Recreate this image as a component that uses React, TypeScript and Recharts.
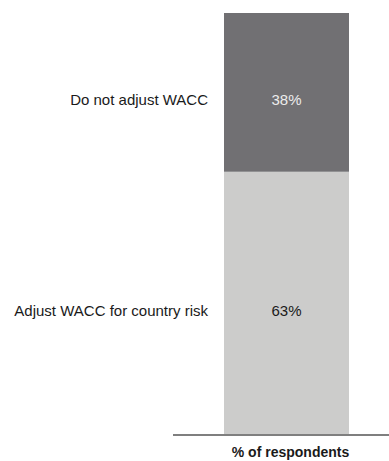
import React from "react";
import { BarChart, Bar, XAxis, YAxis, LabelList } from "recharts";

const categories = ["% of respondents"];
const adjustValues = [63];
const notAdjustValues = [38];
const seriesNames = ["Adjust WACC for country risk", "Do not adjust WACC"];
const seriesColors = ["#cccccb", "#717073"];
const valueColors = ["#1a1a1a", "#ececec"];

const data = categories.map((c, i) => ({
  category: c,
  adjust: adjustValues[i],
  notAdjust: notAdjustValues[i],
}));

const FONT = "'Liberation Sans', Arial, sans-serif";

const makeValueLabel = (color: string) => (props: any) => {
  const { x, y, width, height, value } = props;
  return (
    <text
      x={x + width / 2}
      y={y + height / 2 + 13}
      textAnchor="middle"
      fill={color}
      fontSize={15}
      fontFamily={FONT}
    >
      {value}%
    </text>
  );
};

const makeNameLabel = (name: string) => (props: any) => {
  const { x, y, height } = props;
  return (
    <text
      x={x - 16}
      y={y + height / 2 + 13}
      textAnchor="end"
      fill="#1a1a1a"
      fontSize={15}
      fontFamily={FONT}
    >
      {name}
    </text>
  );
};

const AxisTick = (props: any) => {
  const { x, payload } = props;
  return (
    <text
      x={x + 4}
      y={457}
      textAnchor="middle"
      fill="#1a1a1a"
      fontSize={14}
      fontWeight="bold"
      fontFamily={FONT}
    >
      {payload.value}
    </text>
  );
};

export default function App() {
  return (
    <div style={{ position: "absolute", left: 0, top: 0 }}>
      <BarChart
        width={389}
        height={461}
        data={data}
        margin={{ top: 13, right: 0, bottom: 0, left: 173 }}
        barCategoryGap={0}
      >
        <XAxis
          dataKey="category"
          axisLine={{ stroke: "#7f7f7f", strokeWidth: 2 }}
          tickLine={false}
          padding={{ left: 51, right: 40 }}
          height={26}
          tick={<AxisTick />}
          interval={0}
        />
        <YAxis hide domain={[0, 101]} />
        <Bar dataKey="adjust" stackId="a" fill={seriesColors[0]} isAnimationActive={false}>
          <LabelList dataKey="adjust" content={makeValueLabel(valueColors[0])} />
          <LabelList dataKey="adjust" content={makeNameLabel(seriesNames[0])} />
        </Bar>
        <Bar dataKey="notAdjust" stackId="a" fill={seriesColors[1]} isAnimationActive={false}>
          <LabelList dataKey="notAdjust" content={makeValueLabel(valueColors[1])} />
          <LabelList dataKey="notAdjust" content={makeNameLabel(seriesNames[1])} />
        </Bar>
      </BarChart>
    </div>
  );
}
